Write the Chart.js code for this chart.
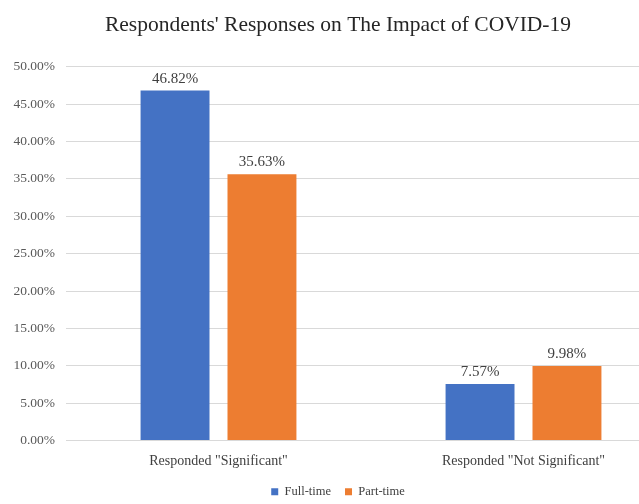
<!DOCTYPE html>
<html>
<head>
<meta charset="utf-8">
<script src="https://cdn.jsdelivr.net/npm/chart.js@4/dist/chart.umd.min.js"></script>
<style>
  html, body { margin: 0; padding: 0; background: #ffffff; overflow: hidden; }
  #wrap { width: 700px; height: 504px; }
</style>
</head>
<body>
<div id="wrap"><canvas id="chart" width="700" height="504"></canvas></div>
<script>
// Survey results: share of respondents by employment type
const categories = ['Responded "Significant"', 'Responded "Not Significant"'];
const seriesNames = ['Full-time', 'Part-time'];
const fullTime = [46.82, 7.57];
const partTime = [35.63, 9.98];
const yTicks = [0, 5, 10, 15, 20, 25, 30, 35, 40, 45, 50];

const SERIF = '"Liberation Serif", "Times New Roman", serif';

// Writes each bar's value just above it
const valueLabels = {
  id: 'valueLabels',
  afterDatasetsDraw(chart) {
    const ctx = chart.ctx;
    ctx.save();
    ctx.font = '15px ' + SERIF;
    ctx.fillStyle = '#404040';
    ctx.textAlign = 'center';
    ctx.textBaseline = 'alphabetic';
    chart.data.datasets.forEach((ds, i) => {
      chart.getDatasetMeta(i).data.forEach((bar, j) => {
        ctx.fillText(ds.data[j].toFixed(2) + '%', bar.x, bar.y - 8);
      });
    });
    ctx.restore();
  }
};

new Chart(document.getElementById('chart'), {
  type: 'bar',
  data: {
    labels: categories,
    datasets: [
      { label: seriesNames[0], data: fullTime, backgroundColor: '#4472C4' },
      { label: seriesNames[1], data: partTime, backgroundColor: '#ED7D31' }
    ]
  },
  options: {
    responsive: false,
    animation: false,
    devicePixelRatio: 1,
    layout: { padding: { left: 0, right: 24, top: 0, bottom: -4 } },
    datasets: { bar: { categoryPercentage: 0.57, barPercentage: 0.793 } },
    plugins: {
      title: {
        display: true,
        text: "Respondents' Responses on The Impact of COVID-19",
        font: { family: SERIF, size: 21.5, weight: 'normal' },
        color: '#262626',
        padding: { top: 12, bottom: 29 }
      },
      legend: {
        position: 'bottom',
        labels: {
          font: { family: SERIF, size: 12.5 },
          color: '#404040',
          boxWidth: 7,
          boxHeight: 7,
          padding: 14
        }
      },
      tooltip: { enabled: false }
    },
    scales: {
      x: {
        afterFit(scale) { scale.height = 31; },
        grid: { display: false, drawTicks: false },
        border: { display: false },
        ticks: {
          font: { family: SERIF, size: 14 },
          color: '#404040',
          padding: 12
        }
      },
      y: {
        min: 0,
        max: 50,
        afterFit(scale) { scale.width = 66; },
        afterBuildTicks(scale) { scale.ticks = yTicks.map(v => ({ value: v })); },
        grid: { color: '#d9d9d9', drawTicks: false, lineWidth: 1 },
        border: { display: false },
        ticks: {
          font: { family: SERIF, size: 13.5 },
          color: '#595959',
          padding: 11,
          callback: v => v.toFixed(2) + '%'
        }
      }
    }
  },
  plugins: [valueLabels]
});
</script>
</body>
</html>
